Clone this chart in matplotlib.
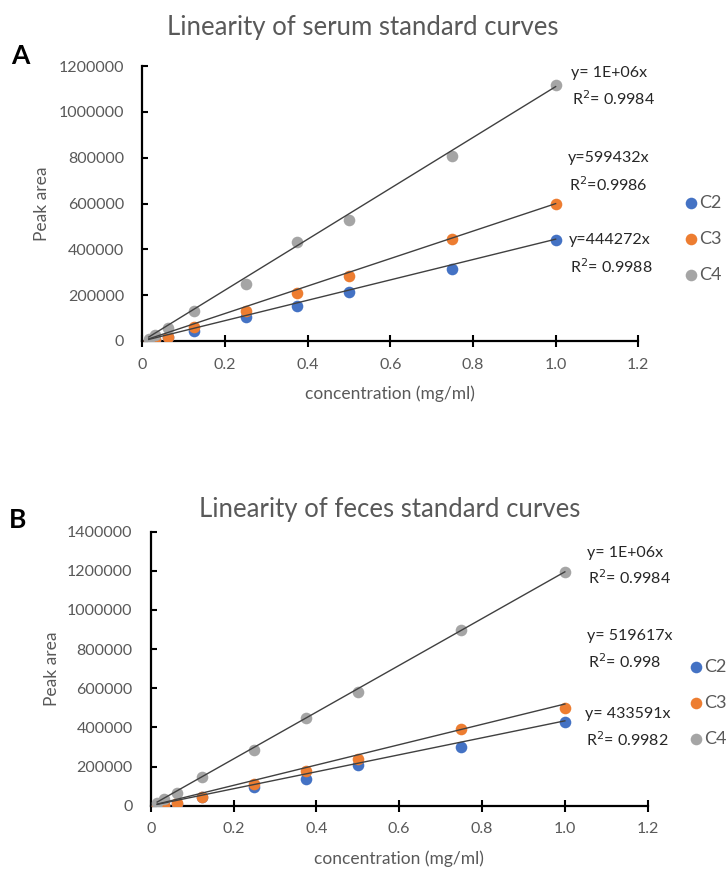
import matplotlib
matplotlib.use("Agg")
import matplotlib.pyplot as plt

plt.rcParams['font.family'] = ['Lato', 'DejaVu Sans']

conc = [0.015625, 0.03125, 0.0625, 0.125, 0.25, 0.375, 0.5, 0.75, 1.0]
series = ['C2', 'C3', 'C4']
colors = ['#4472C4', '#ED7D31', '#A5A5A5']

# serum (panel A)
serum_c2 = [1000, 3000, 16000, 45000, 103000, 154000, 212000, 313000, 441000]
serum_c3 = [2000, 7000, 19000, 60000, 132000, 208000, 284000, 447000, 596000]
serum_c4 = [10000, 26000, 55000, 131000, 247000, 433000, 528000, 809000, 1117000]
serum_slope = [444272, 599432, 1110000]
serum_eq = ['y=444272x', 'y=599432x', 'y= 1E+06x']
serum_r2 = ['R$^2$= 0.9988', 'R$^2$=0.9986', 'R$^2$= 0.9984']

# feces (panel B)
feces_c2 = [0, 2000, 9000, 43000, 94000, 136000, 208000, 298000, 429000]
feces_c3 = [0, 2000, 12000, 44000, 111000, 179000, 238000, 392000, 497000]
feces_c4 = [15000, 32000, 63000, 145000, 284000, 450000, 583000, 898000, 1196000]
feces_slope = [433591, 519617, 1195000]
feces_eq = ['y= 433591x', 'y= 519617x', 'y= 1E+06x']
feces_r2 = ['R$^2$= 0.9982', 'R$^2$= 0.998', 'R$^2$= 0.9984']

grey = '#595959'
W, H = 726, 869

fig = plt.figure(figsize=(W / 100, H / 100), dpi=100)


def px(x, y):
    return x / W, 1 - y / H


def panel(rect, ys, slopes, eqs, r2s, ymax, title, title_xy, letter, letter_xy,
          eq_y, r2_y, text_x, leg_xy, ylab_x):
    ax = fig.add_axes(rect)
    for y, c, name, k in zip(ys, colors, series, slopes):
        ax.scatter(conc, y, s=70, color=c, zorder=3, label=name, linewidths=0)
        xs = [conc[0], conc[-1]]
        ax.plot(xs, [k * v for v in xs], color='#404040', lw=1.0, zorder=4)
    for t, yy, xx in zip(eqs, eq_y, text_x):
        fig.text(*px(xx, yy), t, fontsize=11.5, color='#262626', va='center')
    for t, yy, xx in zip(r2s, r2_y, text_x):
        fig.text(*px(xx + 1, yy), t, fontsize=11.5, color='#262626', va='center')
    ax.set_xlim(0, 1.2)
    ax.set_ylim(0, ymax)
    ax.set_xticks([0, 0.2, 0.4, 0.6, 0.8, 1.0, 1.2])
    ax.set_xticklabels(['0', '0.2', '0.4', '0.6', '0.8', '1.0', '1.2'])
    yt = list(range(0, ymax + 1, 200000))
    ax.set_yticks(yt)
    ax.set_yticklabels([str(v) for v in yt])
    ax.spines['top'].set_visible(False)
    ax.spines['right'].set_visible(False)
    ax.spines['left'].set_linewidth(1.6)
    ax.spines['bottom'].set_linewidth(1.6)
    ax.tick_params(axis='x', direction='inout', length=8, width=1.5,
                   labelsize=11.5, labelcolor=grey, pad=8)
    ax.tick_params(axis='y', direction='in', length=4, width=1.5,
                   labelsize=11.5, labelcolor=grey, pad=13)
    ax.set_xlabel('concentration (mg/ml)', fontsize=12.5, color=grey, labelpad=10)
    ax.set_ylabel('Peak area', fontsize=12.5, color=grey, va='center')
    ax.yaxis.set_label_coords(ylab_x / W, rect[1] + rect[3] / 2,
                              transform=fig.transFigure)
    fig.text(*px(*title_xy), title, fontsize=18.5, color=grey, ha='center', va='center')
    fig.text(*px(*letter_xy), letter, fontsize=19, fontweight='bold',
             ha='center', va='center')
    leg = ax.legend(loc='center left', bbox_to_anchor=px(*leg_xy),
                    bbox_transform=fig.transFigure, frameon=False,
                    handletextpad=0.1, labelspacing=1.1, fontsize=13,
                    borderaxespad=0, borderpad=0, handlelength=0.7)
    for t in leg.get_texts():
        t.set_color(grey)
    return ax


panel([142.3 / W, 1 - 341 / H, 496 / W, 275 / H], [serum_c2, serum_c3, serum_c4],
      serum_slope, serum_eq, serum_r2, 1200000,
      'Linearity of serum standard curves', (363, 27), 'A', (20, 56),
      [240, 158, 73], [267, 185, 99], [569, 568, 571], (685, 239), 42)

panel([150.7 / W, 1 - 805.7 / H, 497 / W, 274 / H], [feces_c2, feces_c3, feces_c4],
      feces_slope, feces_eq, feces_r2, 1400000,
      'Linearity of feces standard curves', (390, 510), 'B', (18, 520),
      [714, 636, 553], [740, 662, 578], [585, 587, 587], (690, 703), 52)

fig.savefig('out.png', dpi=100)
